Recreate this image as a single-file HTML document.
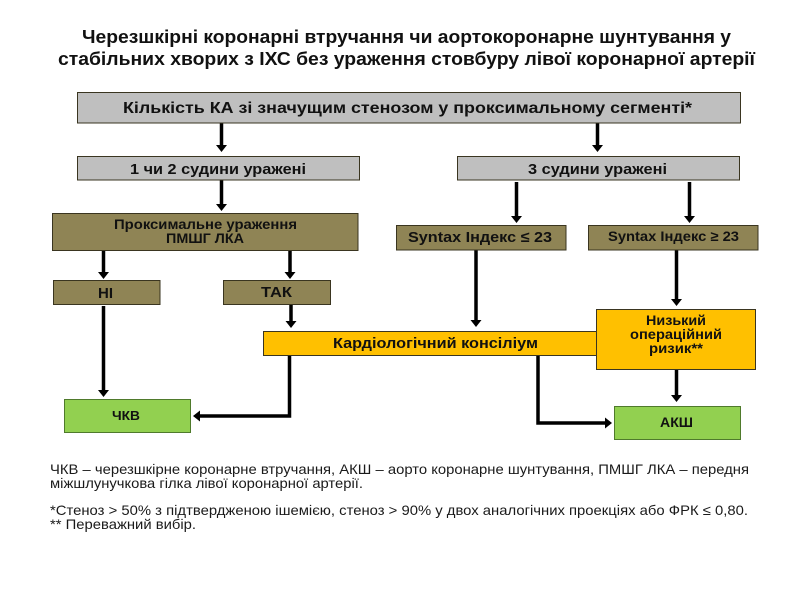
<!DOCTYPE html>
<html lang="uk">
<head>
<meta charset="utf-8">
<style>
html,body{margin:0;padding:0;background:#fff;width:800px;height:600px;overflow:hidden}
svg{display:block;filter:blur(.3px)}
text{font-family:"Liberation Sans",sans-serif;fill:#111}
.b{font-weight:bold}
.t{font-weight:bold;font-size:18px}
.f{font-size:14px;fill:#1a1a1a}
.box{stroke:#3a3520;stroke-width:1}
.ln{fill:none;stroke:#000;stroke-width:3.5}
.hd{fill:#000}
</style>
</head>
<body>
<svg width="800" height="600" viewBox="0 0 800 600" xmlns="http://www.w3.org/2000/svg">
<rect width="800" height="600" fill="#fff"/>

<!-- Title -->
<text class="t" x="82" y="43" textLength="649" lengthAdjust="spacingAndGlyphs">Черезшкірні коронарні втручання чи аортокоронарне шунтування у</text>
<text class="t" x="58" y="65" textLength="697" lengthAdjust="spacingAndGlyphs">стабільних хворих з ІХС без ураження стовбуру лівої коронарної артерії</text>

<!-- Connectors -->
<g class="ln">
<path d="M221.500 123V146"/>
<path d="M597.500 123V146"/>
<path d="M221.500 180V205"/>
<path d="M516.500 182V217"/>
<path d="M689.500 182V217"/>
<path d="M103.500 251V273"/>
<path d="M290 251V273"/>
<path d="M291 305V322"/>
<path d="M103.500 306V391"/>
<path d="M476 250V321"/>
<path d="M676.500 250V300"/>
<path d="M676.500 369V396"/>
<path d="M289.500 355V416H199"/>
<path d="M538 355V423H606"/>
</g>
<g class="hd">
<path d="M216 145H227L221.500 152Z"/>
<path d="M592 145H603L597.500 152Z"/>
<path d="M216 204H227L221.500 211Z"/>
<path d="M511 216H522L516.500 223Z"/>
<path d="M684 216H695L689.500 223Z"/>
<path d="M98 272H109L103.500 279Z"/>
<path d="M284.500 272H295.500L290 279Z"/>
<path d="M285.500 321H296.500L291 328Z"/>
<path d="M98 390H109L103.500 397Z"/>
<path d="M470.500 320H481.500L476 327Z"/>
<path d="M671 299H682L676.500 306Z"/>
<path d="M671 395H682L676.500 402Z"/>
<path d="M200 410.500V421.500L193 416Z"/>
<path d="M605 417.500V428.500L612 423Z"/>
</g>

<!-- Grey boxes -->
<rect class="box" x="77.500" y="92.500" width="663" height="30.500" fill="#bfbfbf"/>
<rect class="box" x="77.500" y="156.500" width="282" height="23.500" fill="#bfbfbf"/>
<rect class="box" x="457.500" y="156.500" width="282" height="23.500" fill="#bfbfbf"/>

<!-- Olive boxes -->
<rect class="box" x="52.500" y="213.500" width="305.500" height="37" fill="#8f8455"/>
<rect class="box" x="396.500" y="225.500" width="169.500" height="24.500" fill="#8f8455"/>
<rect class="box" x="588.500" y="225.500" width="169.500" height="24.500" fill="#8f8455"/>
<rect class="box" x="53.500" y="280.500" width="106.500" height="24" fill="#8f8455"/>
<rect class="box" x="223.500" y="280.500" width="107" height="24" fill="#8f8455"/>

<!-- Orange boxes -->
<rect class="box" x="263.500" y="331.500" width="334" height="24" fill="#ffc000"/>
<rect class="box" x="596.500" y="309.500" width="159" height="60" fill="#ffc000"/>

<!-- Green boxes -->
<rect x="64.500" y="399.500" width="126" height="33" fill="#92d050" stroke="#4f7a2c"/>
<rect x="614.500" y="406.500" width="126" height="33" fill="#92d050" stroke="#4f7a2c"/>

<!-- Box labels -->
<text class="b" font-size="16" x="123" y="113" textLength="569" lengthAdjust="spacingAndGlyphs">Кількість КА зі значущим стенозом у проксимальному сегменті*</text>
<text class="b" font-size="15" x="130" y="174" textLength="176" lengthAdjust="spacingAndGlyphs">1 чи 2 судини уражені</text>
<text class="b" font-size="15" x="528" y="174" textLength="139" lengthAdjust="spacingAndGlyphs">3 судини уражені</text>
<text class="b" font-size="13.500" x="114" y="229" textLength="183" lengthAdjust="spacingAndGlyphs">Проксимальне ураження</text>
<text class="b" font-size="13.500" x="166" y="243" textLength="78" lengthAdjust="spacingAndGlyphs">ПМШГ ЛКА</text>
<text class="b" font-size="15" x="408" y="242" textLength="144" lengthAdjust="spacingAndGlyphs">Syntax Індекс ≤ 23</text>
<text class="b" font-size="14" x="608" y="241" textLength="131" lengthAdjust="spacingAndGlyphs">Syntax Індекс ≥ 23</text>
<text class="b" font-size="15" x="98" y="298" textLength="15" lengthAdjust="spacingAndGlyphs">НІ</text>
<text class="b" font-size="15" x="261" y="297" textLength="31" lengthAdjust="spacingAndGlyphs">ТАК</text>
<text class="b" font-size="15" x="333" y="348" textLength="205" lengthAdjust="spacingAndGlyphs">Кардіологічний консіліум</text>
<text class="b" font-size="14" x="646" y="325" textLength="60" lengthAdjust="spacingAndGlyphs">Низький</text>
<text class="b" font-size="14" x="630" y="339" textLength="92" lengthAdjust="spacingAndGlyphs">операційний</text>
<text class="b" font-size="14" x="649" y="353" textLength="54" lengthAdjust="spacingAndGlyphs">ризик**</text>
<text class="b" font-size="13" x="112" y="420" textLength="28" lengthAdjust="spacingAndGlyphs">ЧКВ</text>
<text class="b" font-size="14" x="660" y="427" textLength="33" lengthAdjust="spacingAndGlyphs">АКШ</text>

<!-- Footnotes -->
<text class="f" x="50" y="474" textLength="699" lengthAdjust="spacingAndGlyphs">ЧКВ – черезшкірне коронарне втручання, АКШ – аорто коронарне шунтування, ПМШГ ЛКА – передня</text>
<text class="f" x="50" y="488" textLength="313" lengthAdjust="spacingAndGlyphs">міжшлунучкова гілка лівої коронарної артерії.</text>
<text class="f" x="50" y="515" textLength="698" lengthAdjust="spacingAndGlyphs">*Стеноз &gt; 50% з підтвердженою ішемією, стеноз &gt; 90% у двох аналогічних проекціях або ФРК ≤ 0,80.</text>
<text class="f" x="50" y="529" textLength="146" lengthAdjust="spacingAndGlyphs">** Переважний вибір.</text>
</svg>
</body>
</html>
